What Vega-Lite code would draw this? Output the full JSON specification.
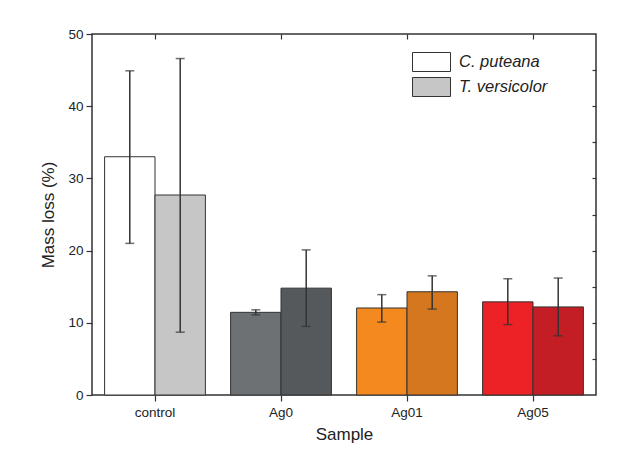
{
  "$schema": "https://vega.github.io/schema/vega-lite/v6.json",
  "width": 504,
  "height": 361,
  "autosize": {"type": "none"},
  "padding": {"left": 92, "top": 34, "right": 34, "bottom": 54},
  "background": "white",
  "data": {
    "values": [
      {"sample": "control", "fungus": "C. puteana", "series": "control/C. puteana", "mean": 33.0, "lo": 21.0, "hi": 44.9},
      {"sample": "control", "fungus": "T. versicolor", "series": "control/T. versicolor", "mean": 27.7, "lo": 8.7, "hi": 46.6},
      {"sample": "Ag0", "fungus": "C. puteana", "series": "Ag0/C. puteana", "mean": 11.45, "lo": 11.1, "hi": 11.8},
      {"sample": "Ag0", "fungus": "T. versicolor", "series": "Ag0/T. versicolor", "mean": 14.8, "lo": 9.5, "hi": 20.1},
      {"sample": "Ag01", "fungus": "C. puteana", "series": "Ag01/C. puteana", "mean": 12.05, "lo": 10.1, "hi": 13.9},
      {"sample": "Ag01", "fungus": "T. versicolor", "series": "Ag01/T. versicolor", "mean": 14.3, "lo": 11.9, "hi": 16.5},
      {"sample": "Ag05", "fungus": "C. puteana", "series": "Ag05/C. puteana", "mean": 12.9, "lo": 9.75, "hi": 16.1},
      {"sample": "Ag05", "fungus": "T. versicolor", "series": "Ag05/T. versicolor", "mean": 12.2, "lo": 8.2, "hi": 16.2}
    ]
  },
  "encoding": {
    "x": {
      "field": "sample", "type": "nominal",
      "sort": ["control", "Ag0", "Ag01", "Ag05"],
      "scale": {"paddingInner": 0.2, "paddingOuter": 0.1}
    },
    "xOffset": {"field": "fungus", "type": "nominal", "sort": ["C. puteana", "T. versicolor"]}
  },
  "layer": [
    {
      "mark": {"type": "bar", "stroke": "#333333", "strokeWidth": 1},
      "encoding": {
        "x": {
          "field": "sample", "type": "nominal",
          "sort": ["control", "Ag0", "Ag01", "Ag05"],
          "axis": {"orient": "bottom", "title": "Sample", "labelAngle": 0, "tickSize": 6, "domain": false, "labelPadding": 4, "titlePadding": 8}
        },
        "y": {
          "field": "mean", "type": "quantitative",
          "scale": {"domain": [0, 50], "nice": false},
          "axis": {"orient": "left", "title": "Mass loss (%)", "values": [0, 10, 20, 30, 40, 50], "tickSize": 6, "grid": false, "domain": false, "labelPadding": 3, "titlePadding": 10}
        },
        "fill": {
          "field": "series", "type": "nominal",
          "scale": {
            "domain": ["control/C. puteana", "control/T. versicolor", "Ag0/C. puteana", "Ag0/T. versicolor", "Ag01/C. puteana", "Ag01/T. versicolor", "Ag05/C. puteana", "Ag05/T. versicolor"],
            "range": ["#ffffff", "#c6c6c6", "#6e7173", "#56595c", "#f3891f", "#d4771e", "#ec2227", "#c31e25"]
          },
          "legend": {
            "values": ["control/C. puteana", "control/T. versicolor"],
            "labelExpr": "split(datum.label, '/')[1]",
            "title": null,
            "orient": "none",
            "legendX": 329.5,
            "legendY": 18,
            "padding": 0,
            "rowPadding": 1,
            "symbolType": "M-2,-1H2V1H-2Z",
            "symbolSize": 361,
            "symbolStrokeColor": "#333333",
            "symbolStrokeWidth": 1,
            "symbolOpacity": 1,
            "labelOffset": 17.5,
            "labelFont": "Liberation Sans",
            "labelFontSize": 16.5,
            "labelFontStyle": "italic",
            "labelColor": "#222222"
          }
        }
      }
    },
    {
      "mark": {"type": "rule", "color": "#333333", "strokeWidth": 1.5},
      "encoding": {
        "x": {
          "field": "sample", "type": "nominal",
          "sort": ["control", "Ag0", "Ag01", "Ag05"],
          "axis": {"orient": "top", "title": null, "labels": false, "domain": false, "tickSize": -5}
        },
        "y": {
          "field": "lo", "type": "quantitative",
          "axis": {"orient": "right", "title": null, "labels": false, "domain": false, "grid": false, "values": [5, 10, 15, 20, 25, 30, 35, 40, 45], "tickSize": -4}
        },
        "y2": {"field": "hi"}
      }
    },
    {
      "mark": {"type": "tick", "color": "#333333", "thickness": 1.5, "size": 9},
      "encoding": {
        "x": {"field": "sample", "type": "nominal", "sort": ["control", "Ag0", "Ag01", "Ag05"], "axis": null},
        "y": {"field": "lo", "type": "quantitative", "axis": null}
      }
    },
    {
      "mark": {"type": "tick", "color": "#333333", "thickness": 1.5, "size": 9},
      "encoding": {
        "x": {"field": "sample", "type": "nominal", "sort": ["control", "Ag0", "Ag01", "Ag05"], "axis": null},
        "y": {"field": "hi", "type": "quantitative", "axis": null}
      }
    }
  ],
  "resolve": {"axis": {"x": "independent", "y": "independent"}},
  "config": {
    "view": {"stroke": "#333333", "strokeWidth": 1.5},
    "axis": {
      "labelFont": "Liberation Sans",
      "labelFontSize": 13.5,
      "labelColor": "#222222",
      "titleFont": "Liberation Sans",
      "titleFontSize": 17,
      "titleFontWeight": "normal",
      "titleColor": "#222222",
      "tickColor": "#333333",
      "tickWidth": 1.2
    }
  }
}
